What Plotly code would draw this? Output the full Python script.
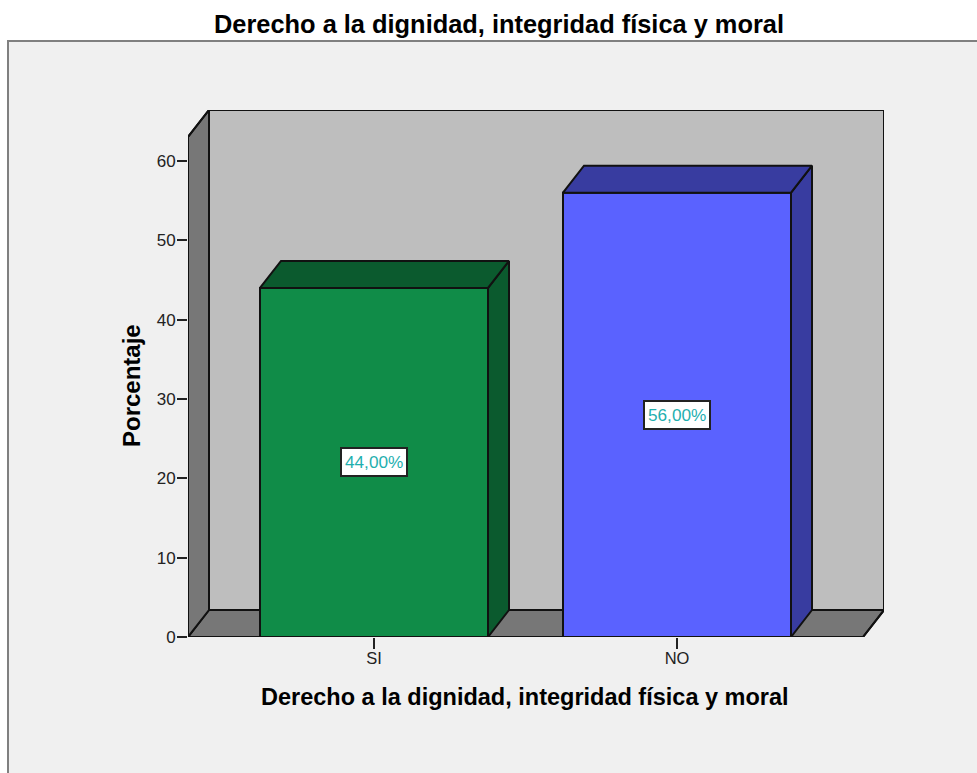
import plotly.graph_objects as go

# Data
categories = ["SI", "NO"]
percentages = [44.0, 56.0]
value_labels = ["44,00%", "56,00%"]
y_ticks = [0, 10, 20, 30, 40, 50, 60]
chart_title = "Derecho a la dignidad, integridad física y moral"
y_title = "Porcentaje"
front_colors = ["#108C48", "#5A62FF"]
side_colors = ["#0B5A2E", "#383CA0"]

# Geometry in axis units
W, H = 977, 773
L, R, T, B = 188, 884, 110, 637
PX_PER_CAT = 303.0
PX_PER_UNIT = (637 - 161) / 60.0
X0_PX = 374
bar_w = 228 / PX_PER_CAT
dx = 21 / PX_PER_CAT
dy = 27 / PX_PER_UNIT
xmin = (L - X0_PX) / PX_PER_CAT
xmax = (R - X0_PX) / PX_PER_CAT
ymax = (B - T) / PX_PER_UNIT
xfront = xmax - dx
yfront = ymax - dy
xpos = list(range(len(categories)))
LINE = "#111111"


def poly_path(pts):
    return "M " + " L ".join(f"{x},{y}" for x, y in pts) + " Z"


def panel(pts, fill):
    return dict(type="path", path=poly_path(pts), xref="x", yref="y", layer="below",
                fillcolor=fill, line=dict(color=LINE, width=2))


shapes = [
    # page panel (paper coordinates)
    dict(type="rect", xref="paper", yref="paper", layer="below",
         x0=(8 - L) / (R - L), x1=(W + 20 - L) / (R - L),
         y0=(B - H - 20) / (B - T), y1=(B - 41) / (B - T),
         fillcolor="#F0F0F0", line=dict(color="#808080", width=2)),
    panel([(xmin + dx, dy), (xmax, dy), (xmax, ymax), (xmin + dx, ymax)], "#BEBEBE"),
    panel([(xmin, 0), (xfront, 0), (xmax, dy), (xmin + dx, dy)], "#777777"),
    panel([(xmin, 0), (xmin + dx, dy), (xmin + dx, ymax), (xmin, yfront)], "#777777"),
]

fig = go.Figure()
fig.add_trace(go.Bar(x=xpos, y=percentages, width=bar_w, cliponaxis=False,
                     marker=dict(color=front_colors, line=dict(color=LINE, width=2)),
                     hoverinfo="skip", showlegend=False))

for x, v, side in zip(xpos, percentages, side_colors):
    xl, xr = x - bar_w / 2, x + bar_w / 2
    fig.add_trace(go.Scatter(x=[xr, xr + dx, xr + dx, xr, xr], y=[0, dy, v + dy, v, 0],
                             mode="lines", fill="toself", fillcolor=side,
                             line=dict(color=LINE, width=2), hoverinfo="skip", showlegend=False))
    fig.add_trace(go.Scatter(x=[xl, xr, xr + dx, xl + dx, xl], y=[v, v, v + dy, v + dy, v],
                             mode="lines", fill="toself", fillcolor=side,
                             line=dict(color=LINE, width=2), hoverinfo="skip", showlegend=False))

# outer edge of the 3D box (not clipped at the plot boundary)
fig.add_trace(go.Scatter(
    x=[xfront, xmin, xmin, xmin + dx, xmax, xmax, xfront],
    y=[0, 0, yfront, ymax, ymax, dy, 0],
    mode="lines", line=dict(color=LINE, width=2), cliponaxis=False,
    hoverinfo="skip", showlegend=False))

annotations = [
    dict(x=x, y=v / 2, text=t, showarrow=False, bgcolor="white", bordercolor="#222222",
         borderwidth=2, borderpad=3, font=dict(family="Liberation Sans", size=17.2, color="#1FAFAF"))
    for x, v, t in zip(xpos, percentages, value_labels)
]
# axis titles, centred where the reference has them rather than on the plot area
annotations.append(dict(xref="paper", yref="paper", x=(525 - L) / (R - L), y=(B - 697) / (B - T),
                        text=chart_title, showarrow=False, xanchor="center", yanchor="middle",
                        font=dict(family="Liberation Sans", size=23.5, color="#000000", weight="bold")))
annotations.append(dict(xref="paper", yref="paper", x=(131 - L) / (R - L), y=(B - 386) / (B - T),
                        text=y_title, showarrow=False, textangle=-90, xanchor="center", yanchor="middle",
                        font=dict(family="Liberation Sans", size=24, color="#000000", weight="bold")))

fig.update_layout(
    width=W, height=H, autosize=False,
    margin=dict(l=L, r=W - R, t=T, b=H - B, pad=0),
    paper_bgcolor="white", plot_bgcolor="rgba(0,0,0,0)",
    font=dict(family="Liberation Sans", color="#222222"),
    title=dict(text=chart_title, x=499 / W, xanchor="center", y=1 - 24 / H, yanchor="middle",
               font=dict(family="Liberation Sans", size=25.4, color="#000000", weight="bold")),
    shapes=shapes, annotations=annotations, showlegend=False,
    xaxis=dict(range=[xmin, xmax], tickmode="array", tickvals=xpos, ticktext=categories,
               ticks="outside", ticklen=11, tickwidth=2, tickcolor="#222222", ticklabelstandoff=-5,
               tickfont=dict(size=16.5, color="#222222"), showgrid=False, zeroline=False, showline=False),
    yaxis=dict(range=[0, ymax], tickmode="array", tickvals=y_ticks,
               ticks="outside", ticklen=10, tickwidth=2, tickcolor="#222222", ticklabelstandoff=-2,
               tickfont=dict(size=17, color="#222222"), showgrid=False, zeroline=False, showline=False),
)

fig.write_html("out.html", config={"displayModeBar": False},
               post_script="document.body.style.margin='0';")
